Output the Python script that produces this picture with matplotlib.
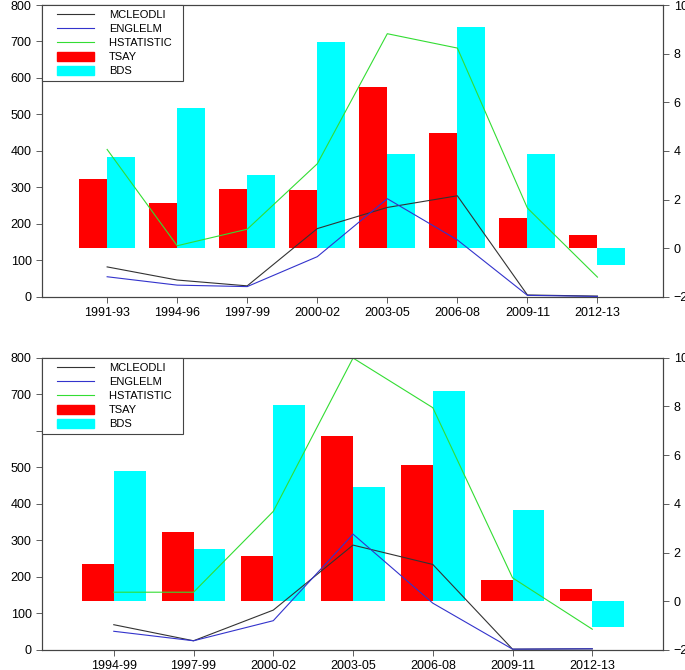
import numpy as np
import matplotlib.pyplot as plt
from matplotlib.patches import Patch
from matplotlib.lines import Line2D
from matplotlib.legend_handler import HandlerLine2D, HandlerPatch

plt.rcParams['font.family'] = ['Liberation Sans', 'DejaVu Sans']

# Panel 1 data
periods1 = ["1991-93", "1994-96", "1997-99", "2000-02", "2003-05", "2006-08", "2009-11", "2012-13"]
mcleodli1 = [82, 46, 30, 187, 245, 277, 5, 2]
englelm1 = [55, 32, 28, 110, 269, 156, 4, 1]
hstat1 = [4.06, 0.10, 0.78, 3.47, 8.82, 8.23, 1.65, -1.19]
tsay1 = [2.85, 1.86, 2.45, 2.41, 6.62, 4.75, 1.24, 0.56]
bds1 = [3.75, 5.77, 3.01, 8.48, 3.86, 9.11, 3.86, -0.71]

# Panel 2 data
periods2 = ["1994-99", "1997-99", "2000-02", "2003-05", "2006-08", "2009-11", "2012-13"]
mcleodli2 = [69, 25, 109, 287, 234, 2, 3]
englelm2 = [51, 25, 80, 317, 128, 2, 3]
hstat2 = [0.37, 0.37, 3.69, 9.99, 7.95, 0.96, -1.15]
tsay2 = [1.52, 2.86, 1.86, 6.77, 5.60, 0.89, 0.51]
bds2 = [5.34, 2.16, 8.08, 4.69, 8.63, 3.73, -1.04]

C_MC = "#333333"
C_EN = "#3333cc"
C_HS = "#33dd33"
C_TS = "#ff0000"
C_BD = "#00ffff"

fig = plt.figure(figsize=(6.85, 6.70), dpi=100)


def panel(rect, periods, mc, en, hs, ts, bd, xlim, hide600=False):
    axb = fig.add_axes(rect)  # bars, right axis
    axl = axb.twinx()         # lines, left axis
    x = np.arange(len(periods))
    w = 0.4
    axb.bar(x - w / 2, ts, width=w, color=C_TS, zorder=2)
    axb.bar(x + w / 2, bd, width=w, color=C_BD, zorder=2)
    axb.plot(x, hs, color=C_HS, lw=0.8, zorder=3)
    axb.set_ylim(-2, 10)
    axb.set_yticks(range(-2, 11, 2))
    axb.yaxis.tick_right()

    axl.plot(x, mc, color=C_MC, lw=0.8)
    axl.plot(x, en, color=C_EN, lw=0.8)
    axl.set_ylim(0, 800)
    axl.set_yticks(range(0, 801, 100))
    if hide600:
        axl.set_yticklabels([str(v) if v != 600 else "" for v in range(0, 801, 100)])
    axl.yaxis.tick_left()
    axl.set_zorder(axb.get_zorder() + 1)
    axl.patch.set_visible(False)

    axb.set_xlim(*xlim)
    axb.set_xticks(x)
    axb.set_xticklabels(periods)
    for a in (axb, axl):
        a.tick_params(labelsize=9, direction="out", length=4, width=0.6, color="#444444")
        for s in a.spines.values():
            s.set_linewidth(0.8)
            s.set_color("#444444")

    handles = [Line2D([], [], color=C_MC, lw=0.8),
               Line2D([], [], color=C_EN, lw=0.8),
               Line2D([], [], color=C_HS, lw=0.8),
               Patch(color=C_TS), Patch(color=C_BD)]
    hmap = {h: (HandlerLine2D(xpad=0.9) if isinstance(h, Line2D) else HandlerPatch(xpad=0.9))
            for h in handles}
    labels = ["MCLEODLI", "ENGLELM", "HSTATISTIC  ", "TSAY", "BDS"]
    leg = axl.legend(handles, labels, handler_map=hmap,
                     loc="upper left", borderaxespad=0, fontsize=8, fancybox=False,
                     framealpha=1, edgecolor="#444444", handlelength=4.2,
                     handletextpad=1.4, borderpad=0.45, labelspacing=0.32,
                     handleheight=0.9)
    leg.get_frame().set_linewidth(0.8)


panel([0.0613, 0.557, 0.907, 0.4355], periods1, mcleodli1, englelm1, hstat1,
      tsay1, bds1, (-0.93, 7.94))
panel([0.0613, 0.030, 0.907, 0.436], periods2, mcleodli2, englelm2, hstat2,
      tsay2, bds2, (-0.9, 6.89), hide600=True)

fig.savefig("out.png", dpi=100)
